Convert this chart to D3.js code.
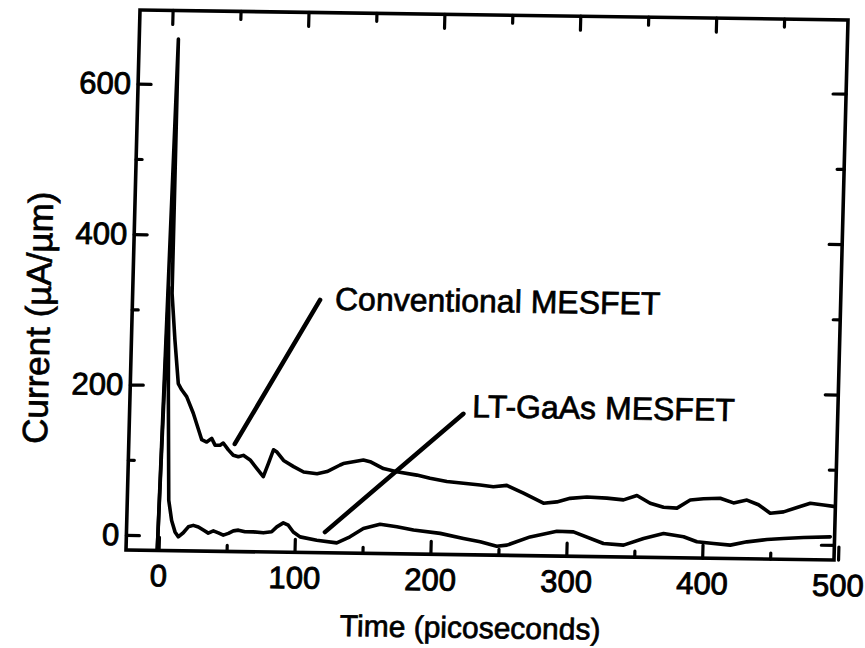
<!DOCTYPE html>
<html>
<head>
<meta charset="utf-8">
<script src="https://cdn.jsdelivr.net/npm/d3@7"></script>
<style>
  html, body { margin: 0; padding: 0; background: #fff; }
  svg { display: block; }
  text { font-family: "Liberation Sans", Arial, Helvetica, sans-serif; fill: #000; }
</style>
</head>
<body>
<svg id="chart" width="865" height="648"></svg>
<script>
// ---- data (time in picoseconds, current in µA/µm) ----
const convTime = [-1, 4.8, 5, 8, 11.3, 13.9, 17.7, 22.9, 29.6, 33.3, 36.9, 39.5, 43.2, 45.5, 49.4, 53.1, 56.9, 60.5, 65.6, 70.6, 75.6, 79.2, 82.6, 85.2, 90.2, 97.7, 105.2, 115.1, 122.4, 131.9, 134.2, 148.9, 153.9, 163.8, 173.7, 188.5, 198.3, 210.7, 223, 235.3, 245, 254.9, 267.3, 282.2, 292, 301.7, 314, 328.7, 341, 350.8, 360.7, 370.6, 380.5, 390.1, 399.8, 412.1, 422, 431.8, 440.4, 449.2, 459, 468.8, 478.5, 488.3, 497];
const convCurrent = [-18, 660, 322, 260, 202, 194, 185, 163, 128, 125, 130, 121, 121, 124, 115, 108, 106, 108, 102, 91, 80, 98, 116, 113, 102, 94, 87, 85, 88, 97, 99, 104, 102, 93, 89, 85, 81, 77, 75, 73, 71, 73, 63, 50, 52, 57, 59, 58, 56, 62, 52, 47, 46, 57, 59, 60, 54, 58, 52, 41, 43, 49, 55, 53, 51];

const ltTime = [-1, 2.5, 4.1, 6.5, 9.0, 11.7, 14.2, 17.8, 21.4, 25, 28.8, 32.5, 36.2, 39.9, 43.6, 47.3, 51, 54.6, 58.3, 63.2, 69.3, 76.7, 82.8, 86.5, 91.2, 94.9, 98.7, 103.8, 116.1, 130.9, 140.5, 150.2, 162.4, 174.8, 187.1, 206.8, 224, 236.4, 248.7, 256.1, 273, 292.6, 304.8, 327.1, 341.9, 356.5, 371.1, 385.9, 395.8, 408.1, 420.4, 432.6, 447.3, 459.5, 474.2, 493.8];
const ltCurrent = [-18, 330, 193, 47, 20, 5, -1.5, 4, 12, 14, 12, 8, 4, 7, 4.5, 1.6, 4, 7.4, 8.5, 6.4, 6.5, 5.4, 6.9, 13.6, 19, 16, 7, 0.7, -3.4, -6.6, 1.7, 13, 19, 16, 12, 8, 1.7, -2.5, -8, -6.4, 5, 13, 12.5, -2.4, -4.2, 5, 12, 8, 1.6, -0.3, -2.2, 2.5, 6, 7.7, 9.4, 10.7];

const xMajorTicks = [0, 100, 200, 300, 400, 500];
const xMinorTicks = [50, 150, 250, 350, 450];
const yMajorTicks = [0, 200, 400, 600];
const yMinorTicks = [100, 300, 500];

const xTitle = "Time (picoseconds)";
const yTitle = "Current (\u00B5A/\u00B5m)";
const annotations = [
  { label: "Conventional MESFET", from: [54, 123], to: [114, 316], text: [125, 303] },
  { label: "LT-GaAs MESFET", from: [122, 7.5], to: [221.6, 167.4], text: [228, 163] }
];

// ---- layout ----
const W = 708, H = 540;
const svg = d3.select("#chart");
// the scanned figure is slightly skewed; reproduce it with an affine transform
const g = svg.append("g").attr("transform", "matrix(1,0.01412,-0.02593,1,140,10)");

const x = d3.scaleLinear().domain([-24, 497]).range([0, W]);
const y = d3.scaleLinear().domain([-20, 698]).range([H, 0]);

const FS = 31;

function styleAxis(sel, labels) {
  sel.select(".domain").remove();
  sel.selectAll(".tick line").attr("stroke", "#000").attr("stroke-width", 3.2).attr("stroke-linecap", "round");
  sel.selectAll(".tick text")
    .style("font-size", FS + "px")
    .attr("fill", "#000")
    .attr("stroke", "#000").attr("stroke-width", 0.9);
  if (!labels) sel.selectAll(".tick text").remove();
}

// bottom
g.append("g").attr("transform", `translate(0,${H})`)
  .call(d3.axisBottom(x).tickValues(xMajorTicks).tickSize(-13).tickPadding(14).tickFormat(d3.format("d")))
  .call(s => styleAxis(s, true));
g.append("g").attr("transform", `translate(0,${H})`)
  .call(d3.axisBottom(x).tickValues(xMinorTicks).tickSize(-6))
  .call(s => styleAxis(s, false));
// top
g.append("g")
  .call(d3.axisTop(x).tickValues(xMajorTicks.filter(d => d < 497)).tickSize(-14))
  .call(s => styleAxis(s, false));
g.append("g")
  .call(d3.axisTop(x).tickValues(xMinorTicks).tickSize(-8))
  .call(s => styleAxis(s, false));
// left
g.append("g")
  .call(d3.axisLeft(y).tickValues(yMajorTicks).tickSize(-13).tickPadding(7).tickFormat(d3.format("d")))
  .call(s => styleAxis(s, true));
g.append("g")
  .call(d3.axisLeft(y).tickValues(yMinorTicks).tickSize(-6))
  .call(s => styleAxis(s, false));
// right
g.append("g").attr("transform", `translate(${W},0)`)
  .call(d3.axisRight(y).tickValues(yMajorTicks).tickSize(-13))
  .call(s => styleAxis(s, false));
g.append("g").attr("transform", `translate(${W},0)`)
  .call(d3.axisRight(y).tickValues(yMinorTicks).tickSize(-7))
  .call(s => styleAxis(s, false));

// frame
g.append("rect").attr("x", 0).attr("y", 0).attr("width", W).attr("height", H)
  .attr("fill", "none").attr("stroke", "#000").attr("stroke-width", 3.6);

// curves
const line = d3.line().x(d => x(d[0])).y(d => y(d[1]));
g.append("clipPath").attr("id", "plotclip")
  .append("rect").attr("x", 0).attr("y", 0).attr("width", W).attr("height", H);
const curves = g.append("g").attr("clip-path", "url(#plotclip)");
[[convTime, convCurrent], [ltTime, ltCurrent]].forEach(([t, c]) => {
  curves.append("path")
    .attr("d", line(t.map((v, i) => [v, c[i]])))
    .attr("fill", "none").attr("stroke", "#000").attr("stroke-width", 3.6)
    .attr("stroke-linejoin", "round").attr("stroke-linecap", "round");
});

// annotations
annotations.forEach(a => {
  g.append("line")
    .attr("x1", x(a.from[0])).attr("y1", y(a.from[1]))
    .attr("x2", x(a.to[0])).attr("y2", y(a.to[1]))
    .attr("stroke", "#000").attr("stroke-width", 4.5).attr("stroke-linecap", "round");
  g.append("text")
    .attr("x", x(a.text[0])).attr("y", y(a.text[1]))
    .style("font-size", "32px")
    .attr("stroke", "#000").attr("stroke-width", 0.7)
    .text(a.label);
});

// axis titles
g.append("text")
  .attr("x", 346).attr("y", 623)
  .attr("text-anchor", "middle")
  .style("font-size", "30px")
  .attr("stroke", "#000").attr("stroke-width", 0.7)
  .text(xTitle);
g.append("text")
  .attr("transform", "translate(-82,309) rotate(-90)")
  .attr("text-anchor", "middle")
  .style("font-size", "35px")
  .attr("stroke", "#000").attr("stroke-width", 0.7)
  .text(yTitle);
</script>
</body>
</html>
